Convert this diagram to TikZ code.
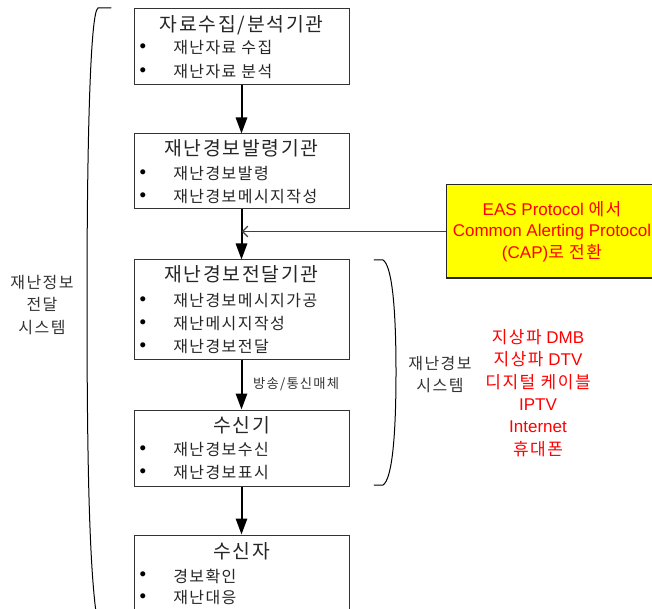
\documentclass[tikz,border=0pt]{standalone}
\usepackage{fontspec}
\setmainfont{Liberation Sans}
\newfontfamily\kr{Noto Sans CJK KR}[LetterSpace=9]
\usetikzlibrary{arrows.meta, positioning}
\definecolor{capyellow}{HTML}{FFFF00}
\definecolor{capred}{HTML}{FF0000}
\tikzset{
  box/.style = {draw=black!80, line width=0.75pt, minimum width=161.25pt, inner sep=0pt},
  boxtitle/.style = {font=\kr\fontsize{14.5}{17}\selectfont, text=black!85, inner sep=0pt},
  item/.style = {font=\kr\fontsize{12}{14}\selectfont, text=black!85, anchor=west, inner sep=0pt},
  bullet/.style = {font=\fontsize{14}{14}\selectfont, inner sep=0pt},
  flow/.style = {line width=1.5pt, -{Triangle[length=12pt, width=8.5pt]}},
  feed/.style = {line width=1pt, draw=black!75, -{Straight Barb[length=4pt, width=8pt]}},
  brack/.style = {line width=0.75pt, line cap=round},
  sidelabel/.style = {font=\kr\fontsize{12}{17}\selectfont, text=black!80, align=center, inner sep=0pt},
  medlabel/.style = {font=\kr\fontsize{10}{12}\selectfont, text=black!80, inner sep=0pt},
  capbox/.style = {draw=black!85, line width=0.75pt, fill=capyellow, text=capred, align=center,
    minimum width=159pt, minimum height=69.75pt, font=\fontsize{12.75}{16}\selectfont},
}

\begin{document}
\begin{tikzpicture}[x=0.75pt, y=-0.75pt]
  \useasboundingbox (0,0) rectangle (652,609);

  % boxes of the chain
  \node[box, minimum height=57pt] (b1) at (241.5,47) {};
  \node[boxtitle] (t1) at (241.5,25) {자료수집/분석기관};
  \foreach \y/\txt [count=\i] in {48/재난자료 수집, 72/재난자료 분석} {
    \node[bullet] (d1\i) at (143,\y) {•};
    \node[item] (i1\i) at (173,\y) {\txt};
  }

  \node[box, minimum height=56.25pt] (b2) at (241.5,171.5) {};
  \node[boxtitle] (t2) at (241.5,148) {재난경보발령기관};
  \foreach \y/\txt [count=\i] in {174/재난경보발령, 197/재난경보메시지작성} {
    \node[bullet] (d2\i) at (143,\y) {•};
    \node[item] (i2\i) at (173,\y) {\txt};
  }

  \node[box, minimum height=74.25pt] (b3) at (241.5,309.5) {};
  \node[boxtitle] (t3) at (241.5,274) {재난경보전달기관};
  \foreach \y/\txt [count=\i] in {301/재난경보메시지가공, 324/재난메시지작성, 347/재난경보전달} {
    \node[bullet] (d3\i) at (143,\y) {•};
    \node[item] (i3\i) at (173,\y) {\txt};
  }

  \node[box, minimum height=57pt] (b4) at (241.5,448) {};
  \node[boxtitle] (t4) at (241.5,425) {수신기};
  \foreach \y/\txt [count=\i] in {450/재난경보수신, 473/재난경보표시} {
    \node[bullet] (d4\i) at (143,\y) {•};
    \node[item] (i4\i) at (173,\y) {\txt};
  }

  \node[box, minimum height=57pt] (b5) at (241.5,573) {};
  \node[boxtitle] (t5) at (241.5,551) {수신자};
  \foreach \y/\txt [count=\i] in {576/경보확인, 598/재난대응} {
    \node[bullet] (d5\i) at (143,\y) {•};
    \node[item] (i5\i) at (173,\y) {\txt};
  }

  % arrows
  \draw[flow] (b1) -- (b2);
  \draw[flow] (b2) -- (b3);
  \draw[flow] (b3) -- node[medlabel, anchor=west, xshift=8pt] (m1) {방송/통신매체} (b4);
  \draw[flow] (b4) -- (b5);

  % CAP conversion
  \node[capbox] (cap) at (552,231.5) {EAS Protocol {\kr 에서}\\Common Alerting Protocol\\(CAP){\kr 로 전환}};
  \draw[feed] (cap.west) -- (cap.west -| b2.south);

  % left bracket
  \draw[brack] (111,8) -- (98,8) .. controls (90,12) and (87,150) .. (87,300)
    .. controls (87,450) and (89,560) .. (96,612);
  \node[sidelabel] (sys1) at (42,305) {재난정보\\전달\\시스템};

  % right bracket
  \draw[brack] (374,260) -- (383,260) .. controls (391,265) and (396,300) .. (396,372)
    .. controls (396,445) and (391,480) .. (383,485) -- (374,485);
  \node[sidelabel, font=\kr\fontsize{12}{16.5}\selectfont] (sys2) at (440,375) {재난경보\\시스템};

  \node[align=center, text=capred, inner sep=0pt, font=\fontsize{12.75}{16.8}\selectfont] (media) at (538,393)
    {{\kr 지상파} DMB\\{\kr 지상파} DTV\\{\kr 디지털 케이블}\\IPTV\\Internet\\{\kr 휴대폰}};
\end{tikzpicture}
\end{document}
